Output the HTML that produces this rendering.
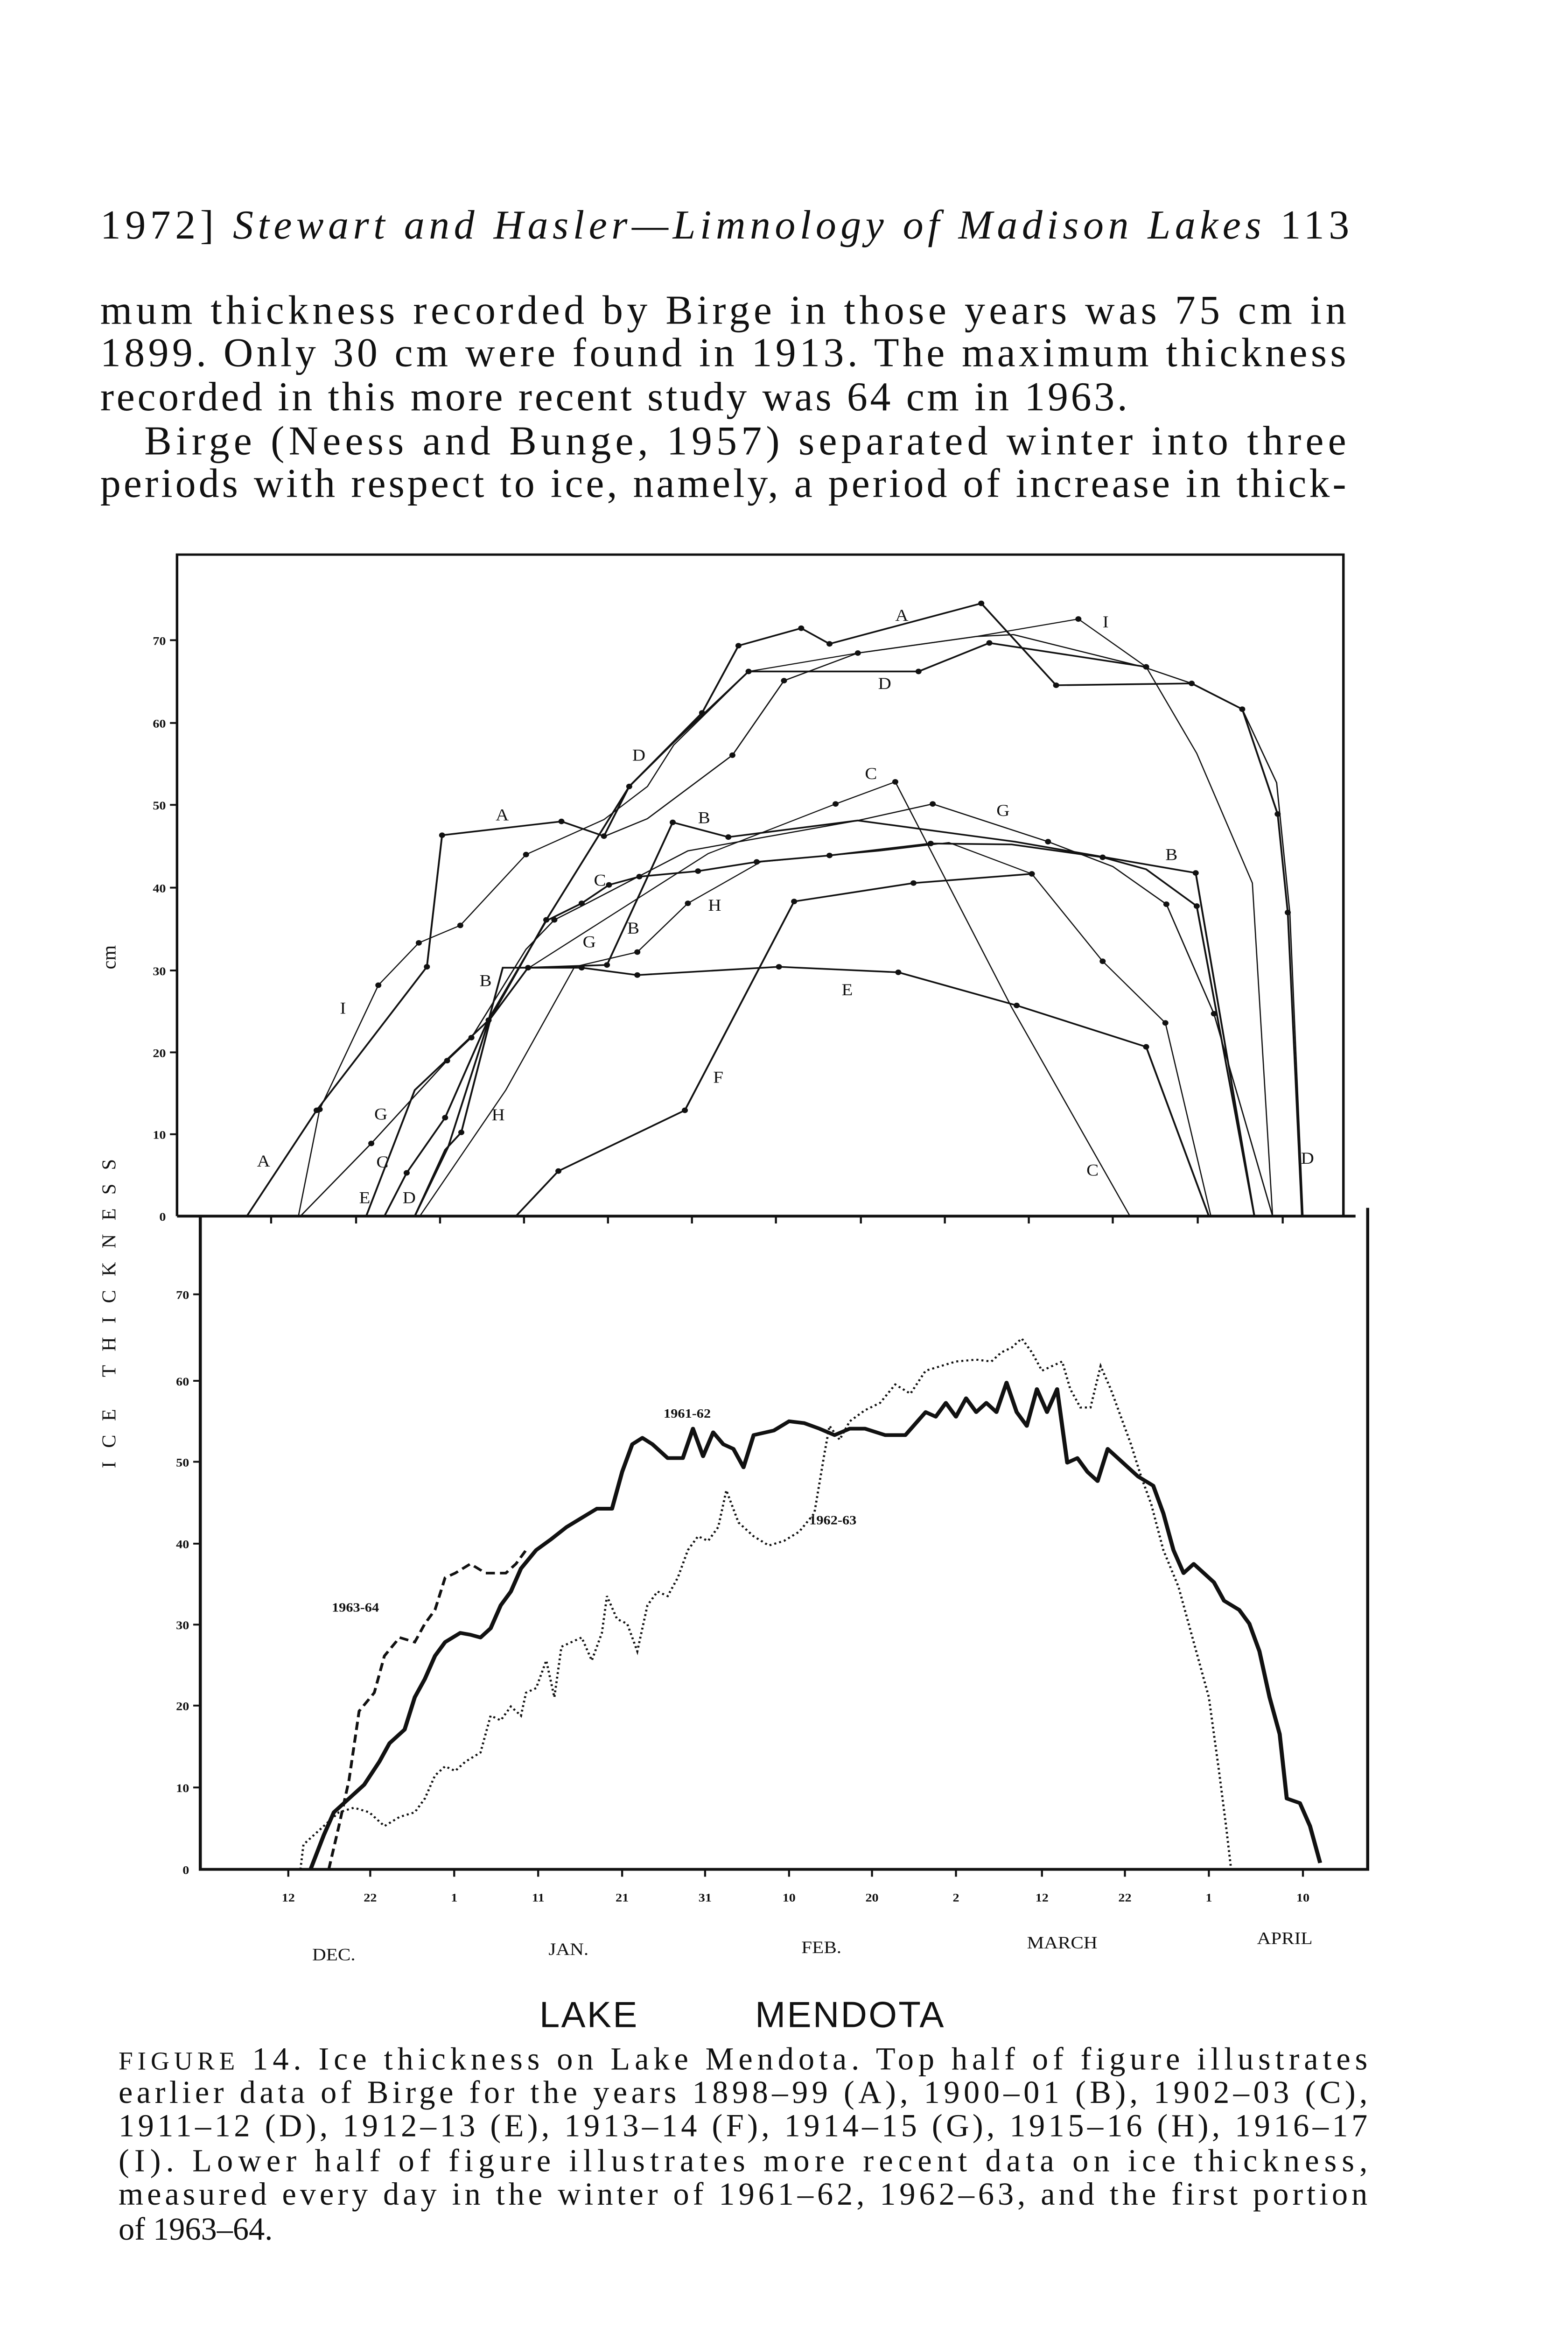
<!DOCTYPE html>
<html><head><meta charset="utf-8"><style>
html,body{margin:0;padding:0;background:#fff;overflow:hidden}
svg{display:block}
text{font-family:"Liberation Serif",serif;fill:#111}
.s{font-family:"Liberation Sans",sans-serif}
</style></head><body>
<svg width="3360" height="5104" viewBox="0 0 1032 1568" preserveAspectRatio="none" xmlns="http://www.w3.org/2000/svg">
<rect width="1032" height="1568" fill="#fff"/>
<text x="66" y="157" font-size="27" textLength="822" lengthAdjust="spacing">1972]  <tspan font-style="italic">Stewart and Hasler—Limnology of Madison Lakes</tspan>    113</text>
<g font-size="27">
<text x="66" y="213" textLength="820" lengthAdjust="spacing">mum thickness recorded by Birge in those years was 75 cm in</text>
<text x="66" y="241" textLength="820" lengthAdjust="spacing">1899. Only 30 cm were found in 1913. The maximum thickness</text>
<text x="66" y="270" textLength="676" lengthAdjust="spacing">recorded in this more recent study was 64 cm in 1963.</text>
<text x="95" y="299" textLength="791" lengthAdjust="spacing">Birge (Neess and Bunge, 1957) separated winter into three</text>
<text x="66" y="327" textLength="820" lengthAdjust="spacing">periods with respect to ice, namely, a period of increase in thick-</text>
</g>
<g transform="translate(0,354.1) scale(0.6658,0.6055)" fill="none" stroke="#111">
<polyline stroke-width="2.5" points="175,737 175,18 1328,18 1328,737"/>
<line x1="175" y1="737" x2="1340" y2="737" stroke-width="3"/>
<polyline stroke-width="3" points="198,737 198,1447 1352,1447 1352,728"/>
<g stroke-width="2">
<line x1="168" y1="111" x2="175" y2="111"/><line x1="168" y1="201" x2="175" y2="201"/><line x1="168" y1="290" x2="175" y2="290"/><line x1="168" y1="380" x2="175" y2="380"/><line x1="168" y1="470" x2="175" y2="470"/><line x1="168" y1="559" x2="175" y2="559"/><line x1="168" y1="648" x2="175" y2="648"/>
<line x1="191" y1="822" x2="198" y2="822"/><line x1="191" y1="916" x2="198" y2="916"/><line x1="191" y1="1004" x2="198" y2="1004"/><line x1="191" y1="1093" x2="198" y2="1093"/><line x1="191" y1="1181" x2="198" y2="1181"/><line x1="191" y1="1269" x2="198" y2="1269"/><line x1="191" y1="1358" x2="198" y2="1358"/>
<path d="M268,737v8M352,737v8M435,737v8M518,737v8M601,737v8M684,737v8M767,737v8M851,737v8M934,737v8M1017,737v8M1100,737v8M1184,737v8M1268,737v8"/>
<path d="M285,1447v8M366,1447v8M449,1447v8M532,1447v8M615,1447v8M697,1447v8M780,1447v8M862,1447v8M945,1447v8M1030,1447v8M1112,1447v8M1195,1447v8M1288,1447v8"/>
</g>
<g stroke-width="1.8">
<polyline points="244,737 313,622 422,466 437,323 555,308 597,324 622,270 694,190 730,117 792,98 820,115 970,71 1044,160 1178,158 1228,186 1263,300 1273,407 1287,737"/>
<polyline stroke-width="1.2" points="295,737 316,621 374,486 414,440 455,421 520,344 597,306 640,270 666,225 740,145 848,125 965,107 1066,88 1133,140 1183,234 1238,375 1258,737"/>
<polyline points="410,737 440,665 456,646 485,522 540,415 622,270 666,222 740,145 908,145 978,114 1133,140"/>
<polyline stroke-width="1.3" points="598,324 640,305 724,236 775,155 848,125 965,107 1002,105 1130,140 1178,158 1228,186 1262,266 1275,407 1288,737"/>
<polyline points="362,737 410,600 483,524 497,467 575,467 630,475 770,466 888,472 1005,508 1133,553 1195,737"/>
<polyline points="410,737 443,662 483,525 522,467 600,464 665,309 720,325 848,307 1003,330 1182,364 1240,737"/>
<polyline points="380,737 402,690 440,630 482,525 540,416 575,397 602,377 632,368 690,362 748,352 820,345 920,332 1000,333 1090,347 1133,360 1183,400 1240,737"/>
<polyline stroke-width="1.2" points="523,467 700,343 826,289 885,265 1000,510 1117,737"/>
<polyline stroke-width="1.3" points="297,737 367,658 442,568 466,543 520,447 548,415 575,400 680,340 848,307 922,289 1036,330 1100,357 1153,398 1200,517 1258,737"/>
<polyline stroke-width="1.2" points="415,737 500,600 568,466 630,450 680,397 752,352 820,345 870,340 938,331 1020,365 1090,460 1152,527 1197,737"/>
<polyline points="510,737 552,688 677,622 785,395 903,375 1020,365"/>
</g>
<g fill="#111" stroke="none">
<circle cx="313" cy="622" r="3"/><circle cx="422" cy="466" r="3"/><circle cx="437" cy="323" r="3"/><circle cx="555" cy="308" r="3"/><circle cx="597" cy="324" r="3"/><circle cx="622" cy="270" r="3"/><circle cx="694" cy="190" r="3"/><circle cx="730" cy="117" r="3"/><circle cx="792" cy="98" r="3"/><circle cx="820" cy="115" r="3"/><circle cx="970" cy="71" r="3"/><circle cx="1044" cy="160" r="3"/><circle cx="1178" cy="158" r="3"/><circle cx="1228" cy="186" r="3"/><circle cx="1263" cy="300" r="3"/><circle cx="1273" cy="407" r="3"/>
<circle cx="316" cy="621" r="3"/><circle cx="374" cy="486" r="3"/><circle cx="414" cy="440" r="3"/><circle cx="455" cy="421" r="3"/><circle cx="520" cy="344" r="3"/><circle cx="1066" cy="88" r="3"/><circle cx="1133" cy="140" r="3"/>
<circle cx="456" cy="646" r="3"/><circle cx="540" cy="415" r="3"/><circle cx="740" cy="145" r="3"/><circle cx="908" cy="145" r="3"/><circle cx="978" cy="114" r="3"/><circle cx="724" cy="236" r="3"/><circle cx="775" cy="155" r="3"/><circle cx="848" cy="125" r="3"/>
<circle cx="483" cy="524" r="3"/><circle cx="575" cy="467" r="3"/><circle cx="630" cy="475" r="3"/><circle cx="770" cy="466" r="3"/><circle cx="888" cy="472" r="3"/><circle cx="1005" cy="508" r="3"/><circle cx="1133" cy="553" r="3"/>
<circle cx="522" cy="467" r="3"/><circle cx="600" cy="464" r="3"/><circle cx="665" cy="309" r="3"/><circle cx="720" cy="325" r="3"/><circle cx="1182" cy="364" r="3"/>
<circle cx="402" cy="690" r="3"/><circle cx="440" cy="630" r="3"/><circle cx="575" cy="397" r="3"/><circle cx="602" cy="377" r="3"/><circle cx="632" cy="368" r="3"/><circle cx="690" cy="362" r="3"/><circle cx="748" cy="352" r="3"/><circle cx="820" cy="345" r="3"/><circle cx="920" cy="332" r="3"/><circle cx="1090" cy="347" r="3"/><circle cx="1183" cy="400" r="3"/><circle cx="826" cy="289" r="3"/><circle cx="885" cy="265" r="3"/>
<circle cx="367" cy="658" r="3"/><circle cx="442" cy="568" r="3"/><circle cx="466" cy="543" r="3"/><circle cx="548" cy="415" r="3"/><circle cx="922" cy="289" r="3"/><circle cx="1036" cy="330" r="3"/><circle cx="1153" cy="398" r="3"/><circle cx="1200" cy="517" r="3"/>
<circle cx="630" cy="450" r="3"/><circle cx="680" cy="397" r="3"/><circle cx="1020" cy="365" r="3"/><circle cx="1090" cy="460" r="3"/><circle cx="1152" cy="527" r="3"/>
<circle cx="552" cy="688" r="3"/><circle cx="677" cy="622" r="3"/><circle cx="785" cy="395" r="3"/><circle cx="903" cy="375" r="3"/>
</g>
<polyline stroke-width="4" stroke-linejoin="round" points="307,1447 320,1410 330,1385 345,1370 360,1355 375,1330 385,1310 400,1295 410,1260 420,1240 430,1215 440,1200 455,1190 465,1192 475,1195 485,1185 495,1160 505,1145 515,1120 530,1100 545,1088 560,1075 575,1065 590,1055 605,1055 615,1015 625,985 635,978 645,985 660,1000 675,1000 685,968 695,998 705,972 715,985 725,990 735,1010 745,975 765,970 780,960 795,962 810,968 825,975 840,968 855,968 875,975 895,975 915,950 925,955 935,940 945,955 955,935 965,950 975,940 985,950 995,918 1005,950 1015,965 1025,925 1035,950 1045,925 1055,1005 1065,1000 1075,1015 1085,1025 1095,990 1110,1005 1125,1020 1140,1030 1150,1060 1160,1100 1170,1125 1180,1115 1190,1125 1200,1135 1210,1155 1225,1165 1235,1180 1245,1210 1255,1260 1265,1300 1272,1370 1285,1375 1295,1400 1305,1440"/>
<polyline stroke-width="2.2" stroke-dasharray="2,3" points="297,1447 300,1420 310,1410 320,1400 335,1385 350,1380 365,1385 380,1400 395,1390 410,1385 420,1370 430,1345 440,1335 450,1340 460,1330 475,1320 485,1280 495,1285 505,1270 515,1280 520,1255 530,1250 540,1220 548,1260 555,1205 565,1200 575,1195 585,1220 595,1190 600,1150 610,1175 620,1180 630,1210 640,1160 650,1145 660,1150 670,1130 680,1100 690,1085 700,1090 710,1075 718,1035 730,1070 745,1085 760,1095 775,1090 790,1080 805,1060 815,995 820,965 830,980 840,960 855,948 870,940 885,920 900,930 915,905 930,900 945,895 965,893 980,895 990,885 1000,880 1010,870 1020,885 1030,905 1040,900 1050,895 1058,925 1068,945 1078,945 1088,900 1098,925 1108,955 1118,985 1128,1020 1138,1050 1150,1100 1165,1140 1180,1200 1195,1260 1205,1340 1212,1400 1217,1447"/>
<polyline stroke-width="2.8" stroke-dasharray="9,5" points="325,1447 335,1400 345,1350 355,1275 370,1255 380,1215 395,1195 410,1200 420,1180 430,1165 440,1130 450,1125 465,1115 480,1125 500,1125 510,1115 520,1100"/>
</g>
<g transform="translate(0,354.1) scale(0.6658,0.6055)" class="s" font-size="15" font-weight="bold" fill="#111">
<g text-anchor="end" font-size="13">
<text x="164" y="116">70</text><text x="164" y="206">60</text><text x="164" y="295">50</text><text x="164" y="385">40</text><text x="164" y="475">30</text><text x="164" y="564">20</text><text x="164" y="653">10</text><text x="164" y="742">0</text>
<text x="187" y="827">70</text><text x="187" y="921">60</text><text x="187" y="1009">50</text><text x="187" y="1098">40</text><text x="187" y="1186">30</text><text x="187" y="1274">20</text><text x="187" y="1363">10</text><text x="187" y="1452">0</text>
</g>
<g text-anchor="middle" font-size="13">
<text x="285" y="1482">12</text><text x="366" y="1482">22</text><text x="449" y="1482">1</text><text x="532" y="1482">11</text><text x="615" y="1482">21</text><text x="697" y="1482">31</text><text x="780" y="1482">10</text><text x="862" y="1482">20</text><text x="945" y="1482">2</text><text x="1030" y="1482">12</text><text x="1112" y="1482">22</text><text x="1195" y="1482">1</text><text x="1288" y="1482">10</text>
</g>
<g font-size="19" font-weight="normal">
<text x="330" y="1546" text-anchor="middle">DEC.</text><text x="562" y="1540" text-anchor="middle">JAN.</text><text x="812" y="1538" text-anchor="middle">FEB.</text><text x="1050" y="1533" text-anchor="middle">MARCH</text><text x="1270" y="1528" text-anchor="middle">APRIL</text>
</g>
<g font-size="18" font-weight="normal">
<text x="885" y="90">A</text><text x="1090" y="97">I</text><text x="868" y="164">D</text><text x="625" y="242">D</text><text x="490" y="307">A</text><text x="690" y="310">B</text><text x="855" y="262">C</text><text x="985" y="302">G</text><text x="1152" y="350">B</text><text x="587" y="378">C</text><text x="700" y="405">H</text><text x="576" y="445">G</text><text x="620" y="430">B</text><text x="474" y="487">B</text><text x="832" y="497">E</text><text x="336" y="517">I</text><text x="705" y="592">F</text><text x="370" y="632">G</text><text x="486" y="633">H</text><text x="254" y="683">A</text><text x="372" y="684">C</text><text x="355" y="723">E</text><text x="398" y="723">D</text><text x="1074" y="693">C</text><text x="1286" y="680">D</text>
</g>
<g font-size="14"><text x="656" y="956">1961-62</text><text x="800" y="1072">1962-63</text><text x="328" y="1167">1963-64</text></g>
</g>
<g class="s" font-size="13" fill="#111">
<text transform="translate(76,630) rotate(-90)" text-anchor="middle">cm</text>
<text transform="translate(76,860) rotate(-90)" text-anchor="middle" letter-spacing="9">ICE    THICKNESS</text>
</g>
<text x="355" y="1334" class="s" font-size="24" letter-spacing="1">LAKE</text>
<text x="497" y="1334" class="s" font-size="24" letter-spacing="1">MENDOTA</text>
<g font-size="21">
<text x="78" y="1362" textLength="822" lengthAdjust="spacing"><tspan font-size="17">FIGURE</tspan> 14. Ice thickness on Lake Mendota. Top half of figure illustrates</text>
<text x="78" y="1384" textLength="822" lengthAdjust="spacing">earlier data of Birge for the years 1898–99 (A), 1900–01 (B), 1902–03 (C),</text>
<text x="78" y="1406" textLength="822" lengthAdjust="spacing">1911–12 (D), 1912–13 (E), 1913–14 (F), 1914–15 (G), 1915–16 (H), 1916–17</text>
<text x="78" y="1429" textLength="822" lengthAdjust="spacing">(I). Lower half of figure illustrates more recent data on ice thickness,</text>
<text x="78" y="1451" textLength="822" lengthAdjust="spacing">measured every day in the winter of 1961–62, 1962–63, and the first portion</text>
<text x="78" y="1474">of 1963–64.</text>
</g>
</svg>
</body></html>
